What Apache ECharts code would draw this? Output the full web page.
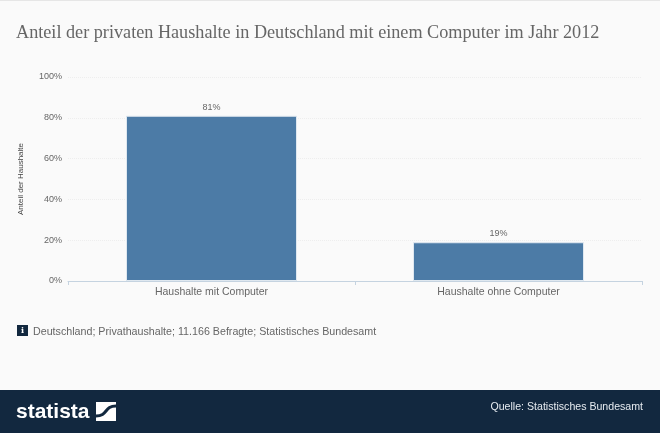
<!DOCTYPE html>
<html>
<head>
<meta charset="utf-8">
<title>Anteil der privaten Haushalte</title>
<script src="https://cdn.jsdelivr.net/npm/echarts@6/dist/echarts.min.js"></script>
<style>
 html, body { margin: 0; padding: 0; background: #fafafa; }
 #chart { width: 660px; height: 433px; }
</style>
</head>
<body>
<div id="chart"></div>
<script>
const categories = ['Haushalte mit Computer', 'Haushalte ohne Computer'];
const shares = [81, 19];
const titleText = 'Anteil der privaten Haushalte in Deutschland mit einem Computer im Jahr 2012';
const yAxisName = 'Anteil der Haushalte';
const infoText = 'Deutschland; Privathaushalte; 11.166 Befragte; Statistisches Bundesamt';
const sourceText = 'Quelle: Statistisches Bundesamt';

const myChart = echarts.init(document.getElementById('chart'), null, { renderer: 'canvas' });

const option = {
 animation: false,
 backgroundColor: '#fafafa',
 title: {
  text: titleText,
  left: 11,
  top: 19,
  textStyle: { fontFamily: 'Liberation Serif', fontSize: 18.2, fontWeight: 'normal', color: '#666666' }
 },
 grid: { left: 68, right: 18, top: 77, height: 204 },
 xAxis: {
  type: 'category',
  data: categories,
  axisLine: { lineStyle: { color: '#c5d3e0', width: 1 } },
  axisTick: { show: true, length: 4, lineStyle: { color: '#c5d3e0' } },
  axisLabel: { fontFamily: 'Liberation Sans', fontSize: 10.5, color: '#666666', margin: 6 }
 },
 yAxis: {
  type: 'value',
  min: 0,
  max: 100,
  interval: 20,
  name: yAxisName,
  nameLocation: 'middle',
  nameGap: 43,
  nameTextStyle: { fontFamily: 'Liberation Sans', fontSize: 8, color: '#444444' },
  axisLine: { show: false },
  axisTick: { show: false },
  axisLabel: { formatter: '{value}%', fontFamily: 'Liberation Sans', fontSize: 9, color: '#666666', margin: 6, padding: [4, 0, 0, 0] },
  splitLine: { lineStyle: { color: '#eeeeee', type: 'dotted', width: 1 } }
 },
 series: [{
  type: 'bar',
  data: shares,
  barWidth: 171,
  itemStyle: { color: '#4c7ba6', borderColor: '#dfe8f0', borderWidth: 1 },
  label: {
   show: true,
   position: 'top',
   formatter: '{c}%',
   distance: 4,
   fontFamily: 'Liberation Sans',
   fontSize: 9,
   color: '#666666'
  }
 }],
 graphic: [
  // top edge of the frame
  { type: 'rect', shape: { x: 0, y: 0, width: 660, height: 1 }, style: { fill: '#e6e6e6' } },
  // info icon + note
  { type: 'rect', shape: { x: 17, y: 325, width: 11, height: 11 }, style: { fill: '#12283f' } },
  { type: 'text', x: 22.5, y: 330.5, style: { text: 'i', fill: '#ffffff', font: 'bold 8px "DejaVu Serif"', textAlign: 'center', textVerticalAlign: 'middle' } },
  { type: 'text', x: 33, y: 332.5, style: { text: infoText, fill: '#666666', font: '10.7px "Liberation Sans"', textVerticalAlign: 'middle' } },
  // footer
  { type: 'rect', shape: { x: 0, y: 390, width: 660, height: 43 }, style: { fill: '#12283f' } },
  { type: 'text', x: 16, y: 412, style: { text: 'statista', fill: '#ffffff', font: 'bold 21px "Liberation Sans"', textVerticalAlign: 'middle' } },
  { type: 'rect', shape: { x: 96, y: 402, width: 20, height: 19 }, style: { fill: '#ffffff' } },
  { type: 'bezierCurve', shape: { x1: 96, y1: 416, x2: 116, y2: 406, cpx1: 108, cpy1: 416, cpx2: 104, cpy2: 406 }, style: { stroke: '#12283f', lineWidth: 3, fill: null } },
  { type: 'text', x: 643, y: 407, style: { text: sourceText, fill: '#e6ebf0', font: '10.6px "Liberation Sans"', textAlign: 'right', textVerticalAlign: 'middle' } }
 ]
};

myChart.setOption(option);
</script>
</body>
</html>
